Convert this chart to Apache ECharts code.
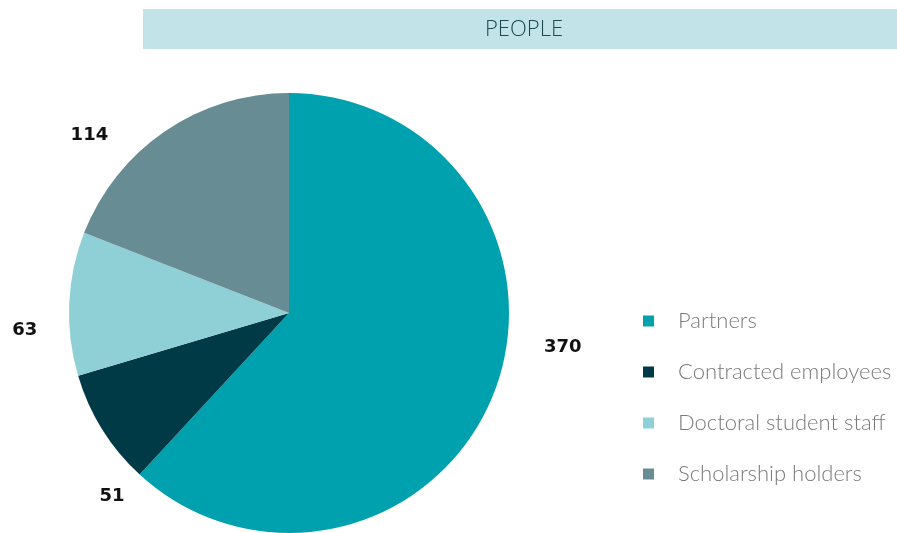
<!DOCTYPE html>
<html><head><meta charset="utf-8">
<script src="https://cdn.jsdelivr.net/npm/echarts@6/dist/echarts.min.js"></script>
<style>html,body{margin:0;padding:0;background:#fff}#c{width:897px;height:533px}</style>
</head><body><div id="c"></div>
<script>
const title = 'PEOPLE';
const categories = ['Partners', 'Contracted employees', 'Doctoral student staff', 'Scholarship holders'];
const values = [370, 51, 63, 114];
const colors = ['#00a1ae', '#003a46', '#8fd0d7', '#678c94'];
// label nudges (px) relative to the automatic outside position
const labelShift = [[10, -56], [60, 52], [10, 28], [-27, 27]];

const chart = echarts.init(document.getElementById('c'), null, {renderer: 'canvas'});
chart.setOption({
  animation: false,
  graphic: [
    {type: 'rect', shape: {x: 143, y: 9, width: 754, height: 40}, style: {fill: '#c2e3e7'}},
    {type: 'text', x: 524, y: 30, style: {text: title, fill: '#1d4a52', font: '300 22px "Open Sans"', textAlign: 'center', textVerticalAlign: 'middle'}}
  ],
  legend: {
    orient: 'vertical', left: 638, top: 305,
    itemWidth: 11, itemHeight: 11, icon: 'rect', itemGap: 29,
    data: categories,
    textStyle: {color: '#7a7a7a', fontSize: 22, fontFamily: 'Lato', fontWeight: 300, padding: [0, 0, 0, 19]}
  },
  series: [{
    type: 'pie',
    center: [289, 313],
    radius: 220,
    startAngle: 90,
    clockwise: true,
    data: categories.map((c, i) => ({name: c, value: values[i], itemStyle: {color: colors[i]}})),
    label: {
      show: true, position: 'outside', formatter: '{c}', overflow: 'none',
      color: '#111', fontSize: 18, fontWeight: 'bold', fontFamily: 'DejaVu Sans',
      distanceToLabelLine: 0
    },
    labelLine: {show: false, length: 28, length2: 14},
    labelLayout: function (p) {
      const s = labelShift[p.dataIndex];
      return {dx: s[0], dy: s[1]};
    },
    emphasis: {disabled: true}
  }]
});
</script></body></html>
